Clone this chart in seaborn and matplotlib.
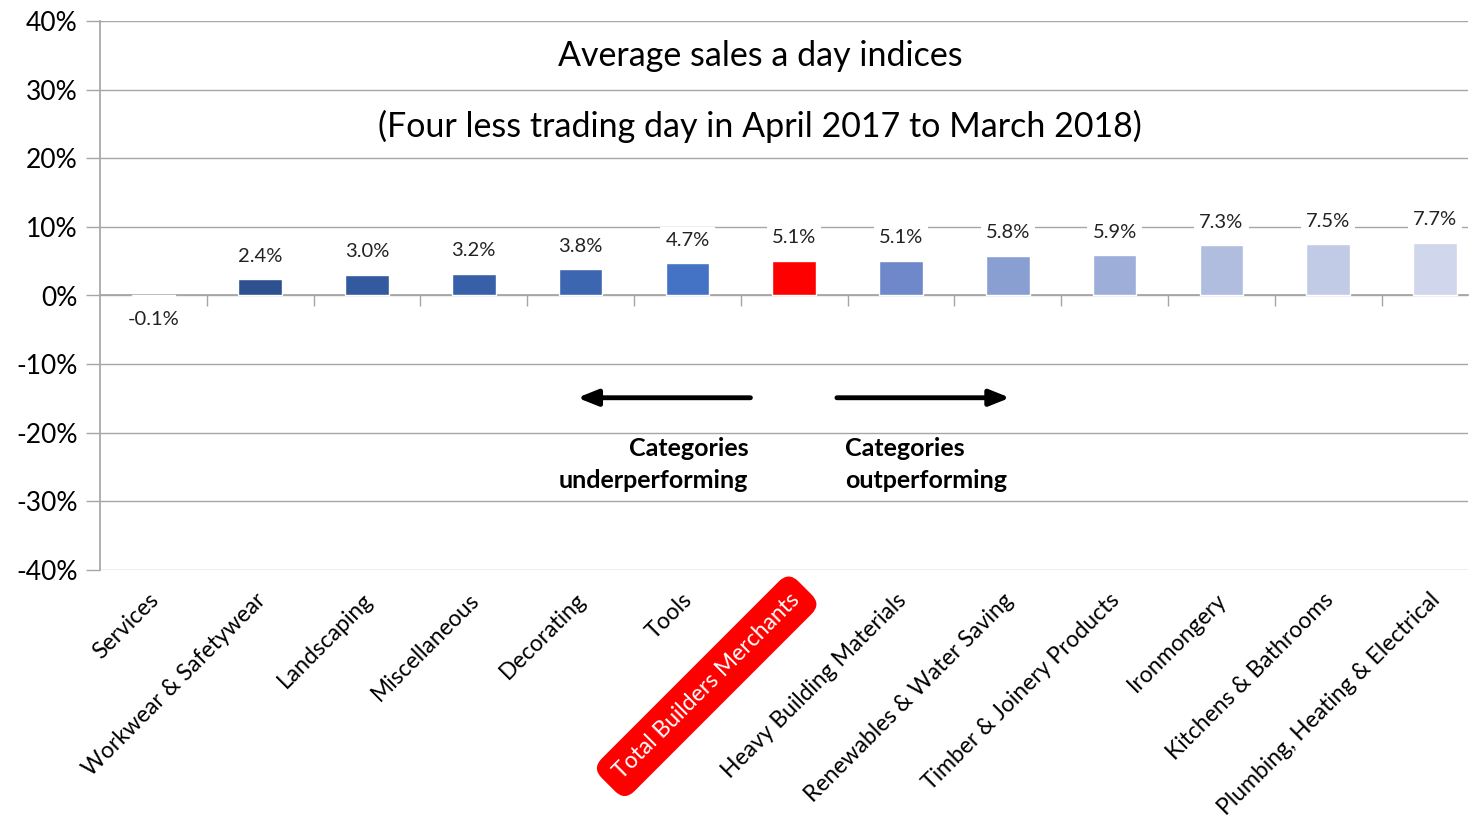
import matplotlib
matplotlib.use("Agg")
import matplotlib.pyplot as plt
import matplotlib.transforms as mtransforms
import seaborn as sns
import pandas as pd
from matplotlib.ticker import FuncFormatter

categories = ["Services", "Workwear & Safetywear", "Landscaping", "Miscellaneous",
              "Decorating", "Tools", "Total Builders Merchants", "Heavy Building Materials",
              "Renewables & Water Saving", "Timber & Joinery Products", "Ironmongery",
              "Kitchens & Bathrooms", "Plumbing, Heating & Electrical"]
values = [-0.1, 2.4, 3.0, 3.2, 3.8, 4.7, 5.1, 5.1, 5.8, 5.9, 7.3, 7.5, 7.7]
labels = ["-0.1%", "2.4%", "3.0%", "3.2%", "3.8%", "4.7%", "5.1%", "5.1%",
          "5.8%", "5.9%", "7.3%", "7.5%", "7.7%"]
colors = ["#2A4A85", "#2E5090", "#335A9F", "#3760A8", "#3C66B0", "#4472C4", "#FF0000",
          "#6E88CA", "#8A9FD1", "#9DAED8", "#B0BDDF", "#C1CBE5", "#D0D7EC"]
yticks = [-40, -30, -20, -10, 0, 10, 20, 30, 40]

sns.set_theme(style="white")
plt.rcParams["font.family"] = ["Lato", "DejaVu Sans"]

df = pd.DataFrame({"cat": categories, "val": values})
fig = plt.figure(figsize=(14.7, 8.21), dpi=100)
ax = fig.add_axes([100 / 1470, 1 - 570 / 821, 1368 / 1470, 549 / 821])

sns.barplot(data=df, x="cat", y="val", hue="cat", palette=colors, legend=False,
            width=0.41, ax=ax, zorder=3, saturation=1)

ax.set_xlim(-0.5, -0.5 + 1368 / 106.8)
ax.set_ylim(-40, 40)
ax.set_yticks(yticks)
ax.yaxis.set_major_formatter(FuncFormatter(lambda v, p: f"{int(v)}%"))
ax.grid(axis="y", color="#A6A6A6", lw=1, zorder=0)
ax.grid(axis="x", visible=False)
for s in ["top", "right", "bottom"]:
    ax.spines[s].set_visible(False)
ax.spines["left"].set_color("#A6A6A6")
ax.tick_params(axis="y", length=10, color="#A6A6A6", width=1, labelsize=19, pad=6,
               labelcolor="black", left=True)
ax.set_xlabel("")
ax.set_ylabel("")

# x tick labels at bottom
ax.set_xticks(range(len(categories)))
ax.set_xticklabels(categories, rotation=45, ha="right", rotation_mode="anchor",
                   fontsize=16.5)
ax.tick_params(axis="x", length=0, pad=14, labelcolor="black")
shift = mtransforms.ScaledTranslation(-4 / 72, 0, fig.dpi_scale_trans)
for i, t in enumerate(ax.get_xticklabels()):
    t.set_transform(t.get_transform() + shift)
    if categories[i] == "Total Builders Merchants":
        t.set_color("white")
        t.set_bbox(dict(boxstyle="round,pad=0.55,rounding_size=0.6", fc="#FF0000", ec="none"))

# zero axis with category boundary ticks
sec = ax.secondary_xaxis(0.5)
sec.set_alignment("bottom")
sec.set_xticks([i + 0.5 for i in range(len(categories) - 1)])
sec.set_xticklabels([])
sec.tick_params(axis="x", length=8, color="#A6A6A6", width=1, direction="out",
                top=False, bottom=True)
sec.spines["bottom"].set_color("#A6A6A6")
for s in ["top", "left", "right"]:
    sec.spines[s].set_visible(False)

# data labels
for i, (v, lab) in enumerate(zip(values, labels)):
    if v >= 0:
        ax.annotate(lab, (i, v), xytext=(0, 16.5), textcoords="offset points",
                    ha="center", va="center", fontsize=14.5, color="#222222", zorder=4,
                    bbox=dict(boxstyle="square,pad=0.25", fc="white", ec="none"))
    else:
        ax.annotate(lab, (i, v), xytext=(0, -17), textcoords="offset points",
                    ha="center", va="center", fontsize=14.5, color="#222222", zorder=4)

# titles
fig.text(760 / 1470, 1 - 56 / 821, "Average sales a day indices", ha="center",
         va="center", fontsize=24.5, color="black")
fig.text(760 / 1470, 1 - 126 / 821, "(Four less trading day in April 2017 to March 2018)",
         ha="center", va="center", fontsize=24.5, color="black")

# arrows
ax.annotate("", xy=(3.97, -14.9), xytext=(5.59, -14.9),
            arrowprops=dict(arrowstyle="-|>,head_length=1.0,head_width=0.4", lw=3.5,
                            color="black", shrinkA=0, shrinkB=0))
ax.annotate("", xy=(8.02, -14.9), xytext=(6.40, -14.9),
            arrowprops=dict(arrowstyle="-|>,head_length=1.0,head_width=0.4", lw=3.5,
                            color="black", shrinkA=0, shrinkB=0))
ax.text(5.57, -24.6, "Categories\nunderperforming", ha="right", va="center",
        fontsize=18, fontweight="bold", linespacing=1.5, color="black")
ax.text(6.48, -24.6, "Categories\noutperforming", ha="left", va="center",
        fontsize=18, fontweight="bold", linespacing=1.5, color="black")

fig.savefig("out.png", dpi=100)
